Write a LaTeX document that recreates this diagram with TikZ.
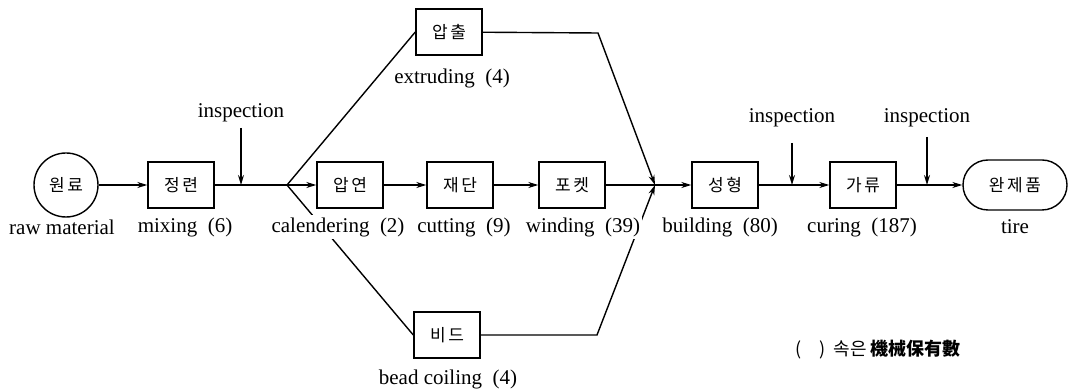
\documentclass[tikz,border=0pt]{standalone}
\usepackage{fontspec}
\setmainfont{Liberation Serif}
\newfontfamily\krwide[LetterSpace=15]{Noto Sans CJK KR}
\newfontfamily\kr{Noto Sans CJK KR}
\usetikzlibrary{arrows.meta}
\begin{document}
\begin{tikzpicture}[x=0.5pt,y=-0.5pt,>={Stealth[length=5pt,width=3pt]},
  every path/.style={line width=0.7pt},
  proc/.style={draw, minimum width=33pt, minimum height=23pt, inner sep=0pt,
    font=\krwide\fontsize{8.5}{9}\selectfont},
  lbl/.style={font=\fontsize{10.5}{12}\selectfont, fill=white, inner sep=1pt}]
  \useasboundingbox (0,0) rectangle (1072,389);
  % process boxes
  \node[proc, circle, minimum size=32pt] (raw) at (66,185) {원료};
  \node[proc] (mix) at (181,185) {정련};
  \node[proc] (cal) at (350,185) {압연};
  \node[proc] (cut) at (460,185) {재단};
  \node[proc] (wind) at (572,185) {포켓};
  \node[proc] (ext) at (449,32) {압출};
  \node[proc] (bead) at (447,335) {비드};
  \node[proc] (build) at (725,185) {성형};
  \node[proc] (cure) at (863,185) {가류};
  \node[proc, rounded corners=12.5pt, minimum width=52pt, minimum height=25pt] (tire) at (1015,185) {완제품};
  \coordinate (fork) at (287,185);
  \coordinate (join) at (655,185);
  \coordinate (extbend) at (598,33);
  \coordinate (beadbend) at (597,335);
  \coordinate (i1) at (241,128);
  \coordinate (i2) at (792,143);
  \coordinate (i3) at (927,137);
  % flow lines
  \draw[->] (raw) -- (mix);
  \draw (mix) -- (fork);
  \draw[->] (fork) -- (cal);
  \draw (fork) -- (ext.west);
  \draw (fork) -- (bead.west);
  \draw[->] (cal) -- (cut);
  \draw[->] (cut) -- (wind);
  \draw (wind) -- (join);
  \draw[->] (ext) -- (extbend) -- (join);
  \draw[->] (bead) -- (beadbend) -- (join);
  \draw[->] (join) -- (build);
  \draw[->] (build) -- (cure);
  \draw[->] (cure) -- (tire);
  % inspection points
  \draw[->] (i1) -- (i1 |- mix);
  \draw[->] (i2) -- (i2 |- build);
  \draw[->] (i3) -- (i3 |- cure);
  % labels
  \node[lbl] (rawlbl) at (62,227) {raw material};
  \node[lbl] (mixlbl) at (185,227) {mixing~~(6)};
  \node[lbl] (callbl) at (338,227) {calendering~~(2)};
  \node[lbl] (cutlbl) at (464,227) {cutting~~(9)};
  \node[lbl] (windlbl) at (583,227) {winding~~(39)};
  \node[lbl] (buildlbl) at (720,227) {building~~(80)};
  \node[lbl] (curelbl) at (862,227) {curing~~(187)};
  \node[lbl] (tirelbl) at (1015,227) {tire};
  \node[lbl] (extlbl) at (452,78) {extruding~~(4)};
  \node[lbl] (beadlbl) at (448,379) {bead coiling~~(4)};
  \node[lbl] (i1lbl) at (241,113) {inspection};
  \node[lbl] (i2lbl) at (792,118) {inspection};
  \node[lbl] (i3lbl) at (927,118) {inspection};
  \node[font=\kr\fontsize{9}{10}\selectfont, inner sep=0pt] (note) at (878,350) {(\quad)\ \ 속은\ \textbf{機械保有數}};
\end{tikzpicture}
\end{document}
